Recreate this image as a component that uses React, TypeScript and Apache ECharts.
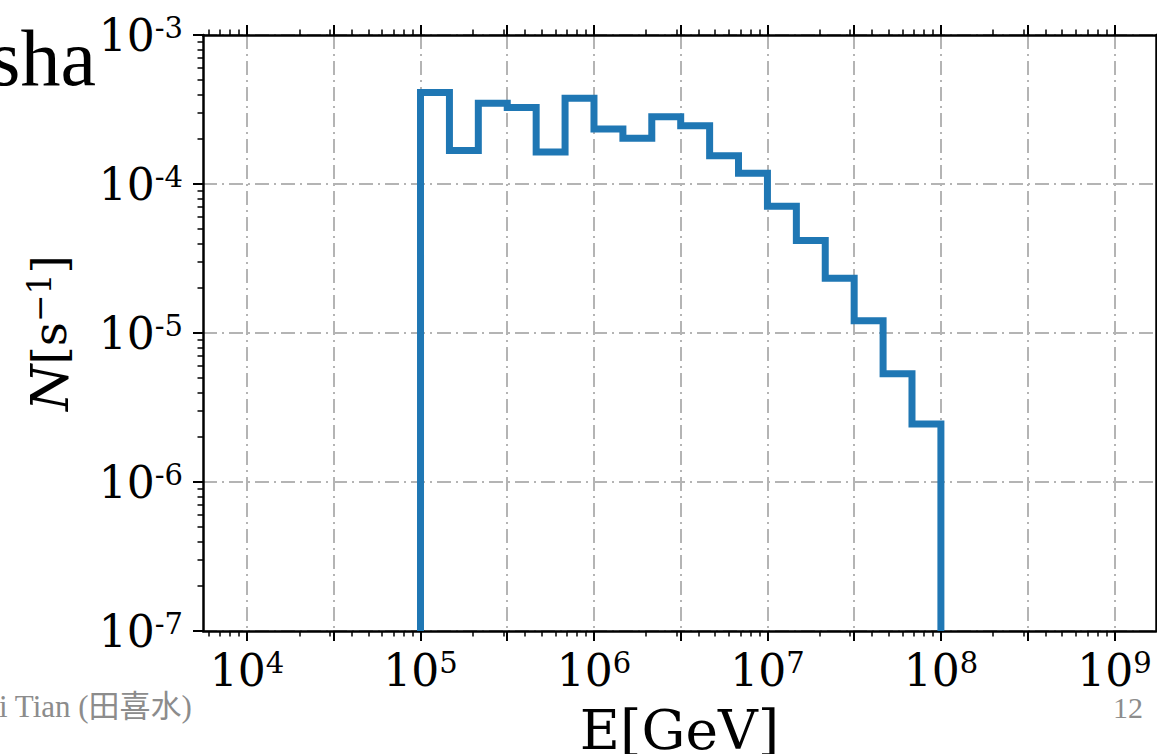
import React, { useEffect, useRef } from "react";
import * as echarts from "echarts";

// ---- data ----
const BIN_EDGES_GEV = [
  1.0e5, 1.468e5, 2.154e5, 3.162e5, 4.642e5, 6.813e5,
  1.0e6, 1.468e6, 2.154e6, 3.162e6, 4.642e6, 6.813e6,
  1.0e7, 1.468e7, 2.154e7, 3.162e7, 4.642e7, 6.813e7,
  1.0e8,
];
const RATES_PER_S = [
  4.12e-4, 1.68e-4, 3.48e-4, 3.26e-4, 1.64e-4, 3.76e-4,
  2.34e-4, 2.03e-4, 2.83e-4, 2.46e-4, 1.55e-4, 1.18e-4,
  7.08e-5, 4.17e-5, 2.33e-5, 1.21e-5, 5.33e-6, 2.45e-6,
];

const X_MAJOR_TICKS = [1e4, 3.162e4, 1e5, 3.162e5, 1e6, 3.162e6, 1e7, 3.162e7, 1e8, 3.162e8, 1e9];
const X_LABEL_TICKS = [1e4, 1e5, 1e6, 1e7, 1e8, 1e9];
const X_MINOR_DECADES = [1e3, 1e4, 1e5, 1e6, 1e7, 1e8, 1e9];
const Y_MAJOR_TICKS = [1e-7, 1e-6, 1e-5, 1e-4, 1e-3];
const Y_MINOR_DECADES = [1e-7, 1e-6, 1e-5, 1e-4];
const MINOR_MULTIPLIERS = [2, 3, 4, 5, 6, 7, 8, 9];

const X_RANGE = [5572, 1.738e9];
const Y_RANGE = [1e-7, 1e-3];

const X_NAME = "E[GeV]";
const TITLE_FRAGMENT = "sha";
const AUTHOR_FRAGMENT = "i Tian (田喜水)";
const PAGE_NUMBER = "12";

// ---- helpers ----
const SERIF = '"DejaVu Serif"';
const SLIDE_FONT = '"Liberation Serif", "Noto Sans CJK SC"';

const minorTicks = (decades: number[], range: number[]) =>
  decades
    .flatMap((d) => MINOR_MULTIPLIERS.map((m) => m * d))
    .filter((v) => v > range[0] && v < range[1]);

const stepPoints: number[][] = [[BIN_EDGES_GEV[0], Y_RANGE[0]]];
RATES_PER_S.forEach((r, i) => {
  stepPoints.push([BIN_EDGES_GEV[i], r], [BIN_EDGES_GEV[i + 1], r]);
});
stepPoints.push([BIN_EDGES_GEV[BIN_EDGES_GEV.length - 1], Y_RANGE[0]]);

const expOf = (v: number) => Math.round(Math.log10(v));

const AXIS_LINE = { show: true, onZero: false, lineStyle: { color: "#000", width: 2.5 } };
const NO_LINE = { show: false, onZero: false };
const GRID_LINE = {
  show: true,
  lineStyle: { color: "#b4b4b4", width: 2, type: [14, 5, 2, 5] },
};
const MAJOR_TICK = (vals: number[]) => ({
  show: true,
  customValues: vals,
  length: 10,
  lineStyle: { color: "#000", width: 2 },
});
const MINOR_TICK = (vals: number[]) => ({
  show: true,
  customValues: vals,
  length: 5.5,
  lineStyle: { color: "#000", width: 1.5 },
});

const labelRich = {
  b: { fontFamily: SERIF, fontSize: 44, lineHeight: 44, color: "#000" },
  s: { fontFamily: SERIF, fontSize: 29, lineHeight: 22, verticalAlign: "top", color: "#000" },
};

const xBase = { type: "log", logBase: 10, min: X_RANGE[0], max: X_RANGE[1] };
const yBase = { type: "log", logBase: 10, min: Y_RANGE[0], max: Y_RANGE[1] };

const xMinor = minorTicks(X_MINOR_DECADES, X_RANGE);
const yMinor = minorTicks(Y_MINOR_DECADES, Y_RANGE);

const option: any = {
  animation: false,
  backgroundColor: "#fff",
  grid: { left: 203, right: 1, top: 35, bottom: 123, containLabel: false, outerBoundsMode: "none" },
  xAxis: [
    {
      ...xBase,
      position: "bottom",
      axisLine: AXIS_LINE,
      axisTick: MAJOR_TICK(X_MAJOR_TICKS),
      splitLine: GRID_LINE,
      axisLabel: {
        customValues: X_LABEL_TICKS,
        margin: 17,
        formatter: (v: number) => `{b|10}{s|${expOf(v)}}`,
        rich: labelRich,
      },
      name: X_NAME,
      nameLocation: "middle",
      nameGap: 71,
      nameTextStyle: { fontFamily: SERIF, fontSize: 55, color: "#000" },
    },
    {
      ...xBase,
      position: "bottom",
      axisLine: NO_LINE,
      axisTick: MINOR_TICK(xMinor),
      splitLine: { show: false },
      axisLabel: { show: false },
    },
    {
      ...xBase,
      position: "top",
      axisLine: AXIS_LINE,
      axisTick: MAJOR_TICK(X_MAJOR_TICKS),
      splitLine: { show: false },
      axisLabel: { show: false },
    },
    {
      ...xBase,
      position: "top",
      axisLine: NO_LINE,
      axisTick: MINOR_TICK(xMinor),
      splitLine: { show: false },
      axisLabel: { show: false },
    },
  ],
  yAxis: [
    {
      ...yBase,
      position: "left",
      axisLine: AXIS_LINE,
      axisTick: MAJOR_TICK(Y_MAJOR_TICKS),
      splitLine: GRID_LINE,
      axisLabel: {
        customValues: Y_MAJOR_TICKS,
        margin: 20,
        formatter: (v: number) => `{b|10}{s|${expOf(v)}}`,
        rich: labelRich,
      },
      name: "{n|N}{t|[s}{u|−1}{t|]}",
      nameLocation: "middle",
      nameRotate: 90,
      nameGap: 128,
      nameTextStyle: {
        rich: {
          n: { fontFamily: SERIF, fontStyle: "italic", fontSize: 53, lineHeight: 52, color: "#000" },
          t: { fontFamily: SERIF, fontSize: 47, lineHeight: 52, color: "#000" },
          u: { fontFamily: SERIF, fontSize: 33, lineHeight: 28, verticalAlign: "top", color: "#000" },
        },
      },
    },
    {
      ...yBase,
      position: "left",
      axisLine: NO_LINE,
      axisTick: MINOR_TICK(yMinor),
      splitLine: { show: false },
      axisLabel: { show: false },
    },
    {
      ...yBase,
      position: "right",
      axisLine: AXIS_LINE,
      axisTick: MAJOR_TICK(Y_MAJOR_TICKS),
      splitLine: { show: false },
      axisLabel: { show: false },
    },
    {
      ...yBase,
      position: "right",
      axisLine: NO_LINE,
      axisTick: MINOR_TICK(yMinor),
      splitLine: { show: false },
      axisLabel: { show: false },
    },
  ],
  series: [
    {
      type: "line",
      xAxisIndex: 0,
      yAxisIndex: 0,
      data: stepPoints,
      symbol: "none",
      clip: true,
      lineStyle: { color: "#1f77b4", width: 7, cap: "butt", join: "miter" },
      silent: true,
    },
  ],
  graphic: [
    {
      type: "text",
      x: 96,
      y: 58,
      style: {
        text: TITLE_FRAGMENT,
        fontFamily: SLIDE_FONT,
        fontSize: 80,
        fill: "#000",
        textAlign: "right",
        textVerticalAlign: "middle",
      },
    },
    {
      type: "text",
      x: -1,
      y: 706,
      style: {
        text: AUTHOR_FRAGMENT,
        fontFamily: SLIDE_FONT,
        fontSize: 31,
        fill: "#8c8c8c",
        textAlign: "left",
        textVerticalAlign: "middle",
      },
    },
    {
      type: "text",
      x: 1143,
      y: 707,
      style: {
        text: PAGE_NUMBER,
        fontFamily: SLIDE_FONT,
        fontSize: 30,
        fill: "#8c8c8c",
        textAlign: "right",
        textVerticalAlign: "middle",
      },
    },
  ],
};

export default function App() {
  const ref = useRef<HTMLDivElement>(null);
  useEffect(() => {
    const el = ref.current;
    if (!el) return;
    const chart = echarts.init(el, null, { renderer: "svg" });
    chart.setOption(option);
    return () => chart.dispose();
  }, []);
  return (
    <div
      ref={ref}
      style={{ position: "fixed", left: 0, top: 0, width: 1157, height: 754, background: "#fff" }}
    />
  );
}
